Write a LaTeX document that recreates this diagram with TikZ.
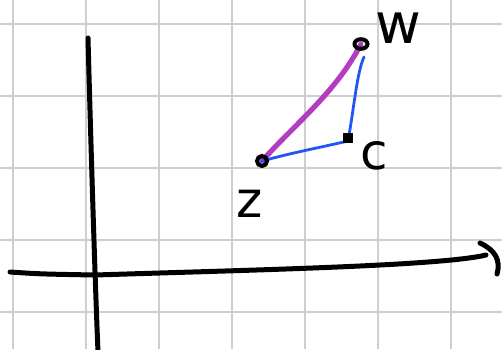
\documentclass[tikz,border=0pt]{standalone}
\usepackage{fontspec}
\setmainfont{DejaVu Sans}
\usetikzlibrary{calc}
\definecolor{gridgray}{HTML}{CFCFCF}
\definecolor{magentaline}{HTML}{B43CC0}
\definecolor{blueline}{HTML}{2255F5}
\begin{document}
\begin{tikzpicture}[x=1pt,y=-1pt,
  gridline/.style={draw=gridgray,line width=1.6pt},
  axisline/.style={draw=black,line width=5pt,line cap=round},
  magline/.style={draw=magentaline,line width=5.2pt,line cap=round},
  blline/.style={draw=blueline,line width=2.8pt,line cap=round},
  ptring/.style={draw=black,line width=4pt},
  lbl/.style={inner sep=0pt,text=black}]
\useasboundingbox (0,0) rectangle (502,349);
\fill[white] (0,0) rectangle (502,349);
% grid
\foreach \gx in {13,86,159,232,305,378,451}
  \draw[gridline] (\gx,0) -- (\gx,349);
\foreach \gy in {24,96,168,240,312}
  \draw[gridline] (0,\gy) -- (502,\gy);
% axes
\coordinate (ytop) at (88,38);
\coordinate (ybot) at (98,352);
\draw[axisline] (ytop) .. controls (91,150) and (95,280) .. (ybot);
\coordinate (xleft) at (10,272);
\coordinate (xmid) at (95,275);
\coordinate (xright) at (486,255);
\draw[axisline] (xleft) .. controls (40,274) .. (xmid)
  .. controls (250,270) and (440,266) .. (xright);
\coordinate (hooka) at (480,243);
\coordinate (hookb) at (497,274);
\draw[axisline] (hooka) .. controls (495,250) and (501,260) .. (hookb);
% points
\coordinate (Z) at (262,161);
\coordinate (C) at (348,141);
\coordinate (W) at (361,44);
\coordinate (Wb) at (364,57);
% connectors
\draw[magline] (Z) .. controls (297,122) and (336,92) .. (W);
\draw[blline] (Z) .. controls (295,152) and (318,148) .. (C);
\draw[blline] (C) .. controls (354,108) and (357,72) .. (Wb);
% point marks
\draw[ptring] (Z) circle[radius=5];
\fill[black] ($(C)+(-5,-8)$) rectangle ($(C)+(5,2)$);
\draw[ptring] (W) ellipse[x radius=6.5,y radius=4.8];
% labels
\node[lbl,font=\fontsize{56}{56}\selectfont] (wl) at (398,28) {w};
\node[lbl,font=\fontsize{50}{50}\selectfont] (cl) at (374,156) {c};
\node[lbl,font=\fontsize{50}{50}\selectfont] (zl) at (250,204) {z};
\end{tikzpicture}
\end{document}
